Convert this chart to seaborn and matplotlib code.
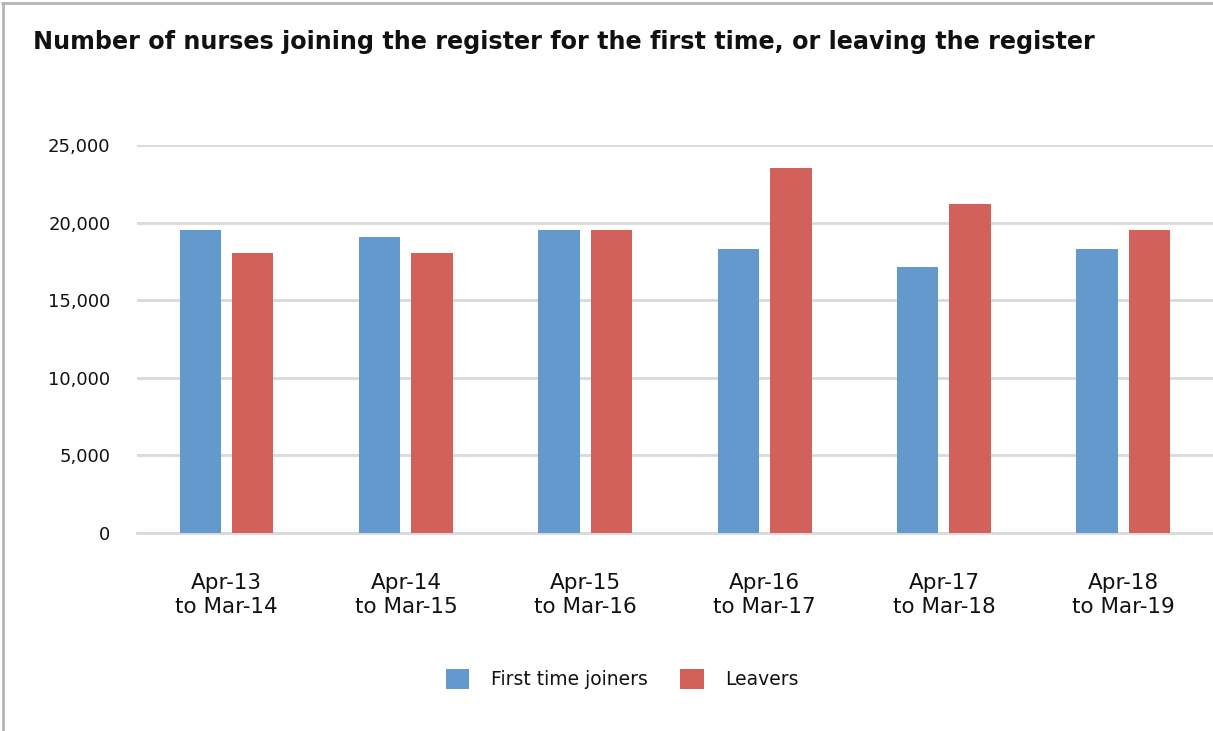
import matplotlib
matplotlib.use("Agg")
import matplotlib.pyplot as plt
import seaborn as sns
import pandas as pd
from matplotlib.lines import Line2D
from matplotlib.ticker import FuncFormatter

# Annual NMC register flows
periods = ["Apr-13\nto Mar-14", "Apr-14\nto Mar-15", "Apr-15\nto Mar-16",
           "Apr-16\nto Mar-17", "Apr-17\nto Mar-18", "Apr-18\nto Mar-19"]
joiners = [19500, 19050, 19500, 18300, 17150, 18300]
leavers = [18050, 18050, 19500, 23500, 21200, 19500]
series_names = ["First time joiners", "Leavers"]
y_ticks = [0, 5000, 10000, 15000, 20000, 25000]

df = pd.DataFrame({
    "period": periods * 2,
    "series": [series_names[0]] * len(periods) + [series_names[1]] * len(periods),
    "value": joiners + leavers,
})

sns.set_theme(style="white")
plt.rcParams["font.family"] = ["DejaVu Sans"]

fig = plt.figure(figsize=(12.13, 7.31), dpi=100)
ax = fig.add_axes([0.1129, 0.2713, 0.8871, 0.5304])

palette = {series_names[0]: "#6499CD", series_names[1]: "#D2615B"}
sns.barplot(data=df, x="period", y="value", hue="series", order=periods,
            hue_order=series_names, palette=palette, width=0.584, gap=0.21,
            saturation=1, errorbar=None, linewidth=0, ax=ax, zorder=3)

ax.set_xlim(-0.5, len(periods) - 0.5)
ax.set_ylim(0, 25000)
ax.set_yticks(y_ticks)
ax.yaxis.set_major_formatter(FuncFormatter(lambda v, _: f"{int(v):,}"))
ax.grid(axis="y", color="#D9D9D9", linewidth=2, zorder=0)
ax.set_axisbelow(True)
for side in ["top", "right", "left"]:
    ax.spines[side].set_visible(False)
ax.spines["bottom"].set_color("#D9D9D9")
ax.spines["bottom"].set_linewidth(2)
ax.set_xlabel("")
ax.set_ylabel("")
ax.tick_params(axis="y", length=0, pad=19, labelsize=13, labelcolor="#111111")
ax.tick_params(axis="x", length=0, pad=29, labelsize=15.5, labelcolor="#111111")
for lbl in ax.get_xticklabels():
    lbl.set_linespacing(1.25)

handles, labels = ax.get_legend_handles_labels()
ax.get_legend().remove()
fig.legend(handles, labels, loc="center", bbox_to_anchor=(0.513, 0.071),
           ncol=2, frameon=False, fontsize=13.5, handlelength=1.23,
           handleheight=1.23, handletextpad=1.17, columnspacing=1.76,
           labelcolor="#111111")

title = fig.text(0.0272, 0.943,
                 "Number of nurses joining the register for the first time, or leaving the register",
                 fontsize=18, fontweight="bold", color="#111111", va="center", ha="left")

# Fit the title to span the width the heading occupies
fig.canvas.draw()
w = title.get_window_extent().width
title.set_fontsize(18 * 1065 / w)

# Frame lines along the top and left edges
fig.add_artist(Line2D([0.002, 1.0], [0.9955, 0.9955], transform=fig.transFigure,
                      color="#B5B5B5", linewidth=2))
fig.add_artist(Line2D([0.0025, 0.0025], [0.0, 0.9955], transform=fig.transFigure,
                      color="#B5B5B5", linewidth=2))

fig.savefig("out.png", dpi=100, facecolor="white")
